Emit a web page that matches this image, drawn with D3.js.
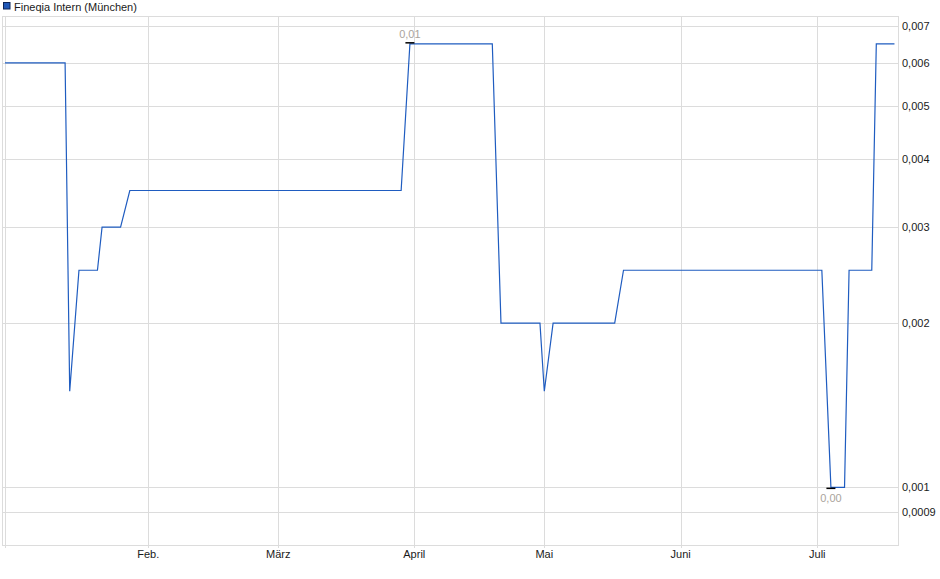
<!DOCTYPE html>
<html>
<head>
<meta charset="utf-8">
<script src="https://cdn.jsdelivr.net/npm/d3@7/dist/d3.min.js"></script>
<style>
  html, body { margin: 0; padding: 0; background: #fff; }
  svg text { font-family: "Liberation Sans", Arial, sans-serif; font-size: 11px; }
</style>
</head>
<body>
<svg id="chart" width="940" height="579"></svg>
<script>
// Series: Fineqia Intern (München), closing prices
const seriesName = 'Fineqia Intern (München)';
const dates  = ['2024-01-01', '2024-01-14', '2024-01-15', '2024-01-17', '2024-01-21', '2024-01-22',
                '2024-01-26', '2024-01-28', '2024-03-29', '2024-03-31', '2024-04-19', '2024-04-21',
                '2024-04-30', '2024-05-01', '2024-05-03', '2024-05-17', '2024-05-19', '2024-07-02',
                '2024-07-04', '2024-07-07', '2024-07-08', '2024-07-13', '2024-07-14', '2024-07-18'];
const prices = [0.006, 0.006, 0.0015, 0.0025, 0.0025, 0.003,
                0.003, 0.0035, 0.0035, 0.0065, 0.0065, 0.002,
                0.002, 0.0015, 0.002, 0.002, 0.0025, 0.0025,
                0.001, 0.001, 0.0025, 0.0025, 0.0065, 0.0065];

// Axis ticks
const monthStarts = ['2024-01-01', '2024-02-01', '2024-03-01', '2024-04-01', '2024-05-01', '2024-06-01', '2024-07-01'];
const monthLabels = ['', 'Feb.', 'März', 'April', 'Mai', 'Juni', 'Juli'];
const yTicks      = [0.0009, 0.001, 0.002, 0.003, 0.004, 0.005, 0.006, 0.007];

const parse  = d3.utcParse('%Y-%m-%d');
const de     = d3.formatLocale({ decimal: ',', thousands: '.', grouping: [3], currency: ['', ' €'] });
const fmtY   = de.format('~g');
const fmtVal = de.format('.2f');

const plot = { left: 2.5, right: 898, top: 16, bottom: 545 },
      gridColor = '#dcdcdc',
      lineColor = '#1f5cc0';

const svg = d3.select('#chart');

// Month stops of the time axis (spacing on the source chart is not perfectly even)
const x = d3.scaleUtc()
  .domain(monthStarts.map(parse).concat([parse('2024-07-19')]))
  .range([5, 148.3, 278.3, 414.3, 544.3, 680.7, 817.3, 899]);

const y = d3.scaleLog()
  .domain([0.000784, 0.00731])
  .range([plot.bottom, plot.top]);

const crisp = v => Math.round(v) + 0.5;

// Legend
svg.append('rect')
  .attr('x', 3.5).attr('y', 2.5).attr('width', 6.5).attr('height', 6.5)
  .attr('fill', '#2058b8').attr('stroke', '#0d2558');
svg.append('text')
  .attr('x', 14).attr('y', 10.5)
  .attr('fill', '#1a1a1a')
  .text(seriesName);

// Grid
const grid = svg.append('g').attr('stroke', gridColor).attr('stroke-width', 1);

grid.selectAll('.hgrid')
  .data(yTicks)
  .join('line')
  .attr('class', 'hgrid')
  .attr('x1', plot.left).attr('x2', plot.right)
  .attr('y1', d => crisp(y(d))).attr('y2', d => crisp(y(d)));

grid.selectAll('.vgrid')
  .data(monthStarts)
  .join('line')
  .attr('class', 'vgrid')
  .attr('x1', d => crisp(x(parse(d)))).attr('x2', d => crisp(x(parse(d))))
  .attr('y1', plot.top).attr('y2', plot.bottom + 3);

// Frame
grid.append('rect')
  .attr('x', Math.floor(plot.left) + 0.5).attr('y', plot.top + 0.5)
  .attr('width', Math.round(plot.right - plot.left))
  .attr('height', plot.bottom - plot.top)
  .attr('fill', 'none');

// Y labels (right side)
svg.append('g')
  .selectAll('text')
  .data(yTicks)
  .join('text')
  .attr('x', plot.right + 4)
  .attr('y', d => y(d))
  .attr('dy', '0.35em')
  .attr('fill', '#1a1a1a')
  .text(d => fmtY(d));

// X labels
svg.append('g')
  .selectAll('text')
  .data(monthStarts)
  .join('text')
  .attr('x', d => x(parse(d)))
  .attr('y', plot.bottom + 13)
  .attr('text-anchor', 'middle')
  .attr('fill', '#1a1a1a')
  .text((d, i) => monthLabels[i]);

// Price line
const points = dates.map((d, i) => ({ date: parse(d), value: prices[i] }));

svg.append('path')
  .datum(points)
  .attr('fill', 'none')
  .attr('stroke', lineColor)
  .attr('stroke-width', 1.2)
  .attr('d', d3.line().x(d => x(d.date)).y(d => y(d.value)));

// High / low markers
const hi = points[d3.maxIndex(points, d => d.value)],
      lo = points[d3.minIndex(points, d => d.value)];

[[hi, -1, -6], [lo, 1, 14.5]].forEach(([p, off, textOff]) => {
  const px = x(p.date), py = y(p.value);
  svg.append('line')
    .attr('x1', px - 4.5).attr('x2', px + 4.5)
    .attr('y1', py + off).attr('y2', py + off)
    .attr('stroke', '#000').attr('stroke-width', 1.5);
  svg.append('text')
    .attr('x', px).attr('y', py + textOff)
    .attr('text-anchor', 'middle')
    .attr('fill', '#aaa49c')
    .text(fmtVal(p.value));
});
</script>
</body>
</html>
